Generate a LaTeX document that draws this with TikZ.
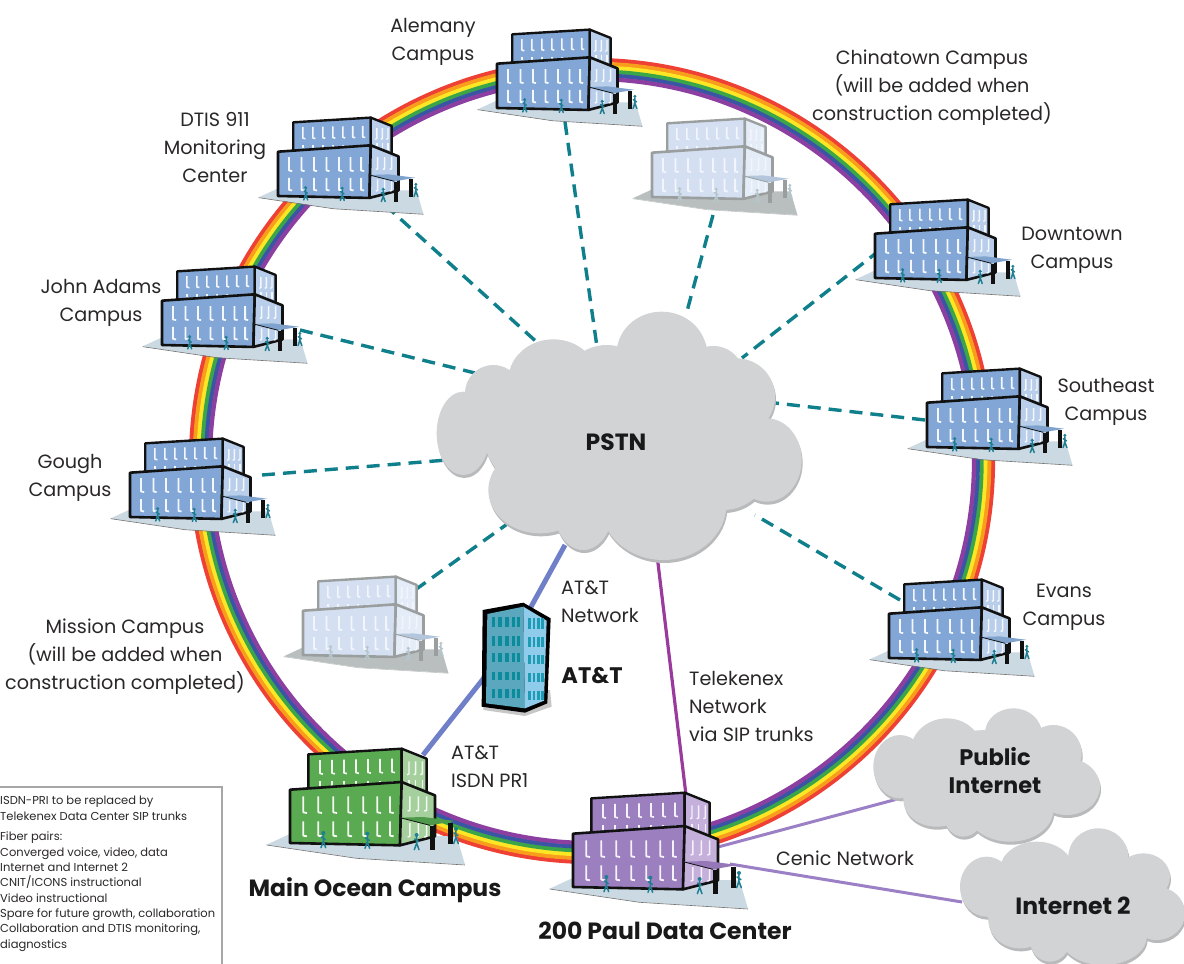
\documentclass[tikz,border=0pt]{standalone}
\usepackage{fontspec}
\setmainfont{Poppins}
\definecolor{blueF}{HTML}{82A6D6}\definecolor{blueS}{HTML}{B8CEEA}\definecolor{blueL}{HTML}{111111}\definecolor{blueP}{HTML}{CBD9E3}\definecolor{blueW}{HTML}{F4F8FD}\definecolor{blueM}{HTML}{1E7F93}\definecolor{blueC}{HTML}{7FA3CC}
\definecolor{greenF}{HTML}{5AAA52}\definecolor{greenS}{HTML}{A5D09E}\definecolor{greenL}{HTML}{111111}\definecolor{greenP}{HTML}{CBD9E3}\definecolor{greenW}{HTML}{F4FAF2}\definecolor{greenM}{HTML}{1E7F93}\definecolor{greenC}{HTML}{4F9A4A}
\definecolor{purpF}{HTML}{9C7FBF}\definecolor{purpS}{HTML}{C4B0DA}\definecolor{purpL}{HTML}{111111}\definecolor{purpP}{HTML}{CBD9E3}\definecolor{purpW}{HTML}{F6F2FB}\definecolor{purpM}{HTML}{1E7F93}\definecolor{purpC}{HTML}{9678B8}
\definecolor{ghostF}{HTML}{D4E0F2}\definecolor{ghostS}{HTML}{E4ECF8}\definecolor{ghostL}{HTML}{9A9E9E}\definecolor{ghostP}{HTML}{B9BFBF}\definecolor{ghostW}{HTML}{F2F6FC}\definecolor{ghostM}{HTML}{B5C6CC}\definecolor{ghostC}{HTML}{B4C6DC}
\definecolor{ctext}{HTML}{2A2728}\definecolor{cloudM}{HTML}{D1D3D5}\definecolor{cloudD}{HTML}{B9BABC}
\definecolor{tealdash}{HTML}{0F7F8C}\definecolor{attblue}{HTML}{6F80C8}\definecolor{magline}{HTML}{9A3A9C}\definecolor{purpline}{HTML}{9B80C6}
\definecolor{towerF}{HTML}{5AA7BE}\definecolor{towerS}{HTML}{8FCBEA}\definecolor{towerW}{HTML}{0A8C9C}\definecolor{towerV}{HTML}{1E9BB5}
\tikzset{
 x=1pt,y=-1pt,
 lbl/.style={inner sep=0pt,align=center,text=ctext,yshift=-3pt,font=\fontsize{19.2}{28}\selectfont},
 lbll/.style={lbl,align=left},
 blbl/.style={inner sep=0pt,align=center,text=black!90,yshift=-1pt,font=\fontsize{23.5}{28}\selectfont\bfseries},
 legendtxt/.style={inner sep=0pt,align=left,text=ctext,font=\fontsize{11.5}{15.3}\selectfont},
 dashlink/.style={draw=tealdash,line width=3.4pt,dash pattern=on 13pt off 8pt},
 attlink/.style={draw=attblue,line width=5pt},
 maglink/.style={draw=magline,line width=3.2pt},
 purplink/.style={draw=purpline,line width=3pt}
}
\newcommand{\bldg}[4]{%
\begin{scope}[shift={(#1,#2)},scale=#3,line join=round]
 \fill[#4P] (-70,5)--(-5,-25)--(500,-20)--(525,65)--(200,45)--cycle;
 \draw[#4L!60!white,line width=.6pt] (-70,6)--(200,46)--(525,66);
 % upper block
 \filldraw[fill=#4F,draw=#4L,line width=2.4pt] (55,-266)--(335,-283)--(335,-150)--(55,-150)--cycle;
 \filldraw[fill=#4S,draw=#4L,line width=2.4pt] (335,-283)--(410,-253)--(410,-130)--(335,-150)--cycle;
 \foreach \u in {90,126,162,198,234,270,306}{
  \draw[#4W,line width=1.6pt] (\u,-247-\u*.02)--(\u,-207-\u*.02)--(\u+9,-205-\u*.02);
  \draw[#4W,line width=1.5pt] (\u,-185)--(\u,-172);}
 \foreach \u in {352,372,392}{
  \draw[#4W,line width=1.4pt] (\u+5,-245)--(\u+5,-207)--(\u-1,-205);
  \draw[#4W,line width=1.4pt] (\u+5,-190)--(\u+5,-165);}
 % lower block
 \filldraw[fill=#4F,draw=#4L,line width=2.6pt] (0,-160)--(335,-183)--(330,7)--(0,0)--cycle;
 \filldraw[fill=#4S,draw=#4L,line width=2.6pt] (335,-183)--(435,-143)--(435,-20)--(330,7)--cycle;
 \foreach \u in {40,85,130,175,220,262,300}{
  \draw[#4W,line width=1.8pt] (\u,-140)--(\u,-92)--(\u+11,-90);
  \draw[#4W,line width=1.8pt] (\u,-65)--(\u,-22)--(\u+11,-20);}
 \foreach \u in {355,380,405}{
  \draw[#4W,line width=1.5pt] (\u+5,-140)--(\u+5,-98)--(\u-2,-96);
  \draw[#4W,line width=1.5pt] (\u+5,-60)--(\u+5,-20)--(\u-2,-18);}
 % canopy and columns
 \fill[#4C] (330,-76)--(400,-78)--(495,-66)--(420,-53)--cycle;
 \draw[#4L,line width=.8pt] (330,-76)--(420,-53);
 \draw[#4L,line width=5pt*#3*3] (427,-50)--(427,22);
 \draw[#4L,line width=5pt*#3*3] (481,-60)--(481,2);
 % people
 \foreach \u/\v in {100/0,232/2,380/6,498/-12}{
  \fill[#4M] (\u,\v-30) circle (6);
  \draw[#4M,line width=1.5pt,line cap=round] (\u,\v-24)--(\u,\v-5)--(\u-7,\v+14) (\u,\v-5)--(\u+7,\v+14) (\u-6,\v-18)--(\u+6,\v-10);}
\end{scope}}
\newcommand{\lobesPSTN}{%
 \fill (100,430) ellipse [x radius=80,y radius=125];
 \fill (190,310) circle (85);
 \fill (370,270) ellipse [x radius=135,y radius=122];
 \fill (530,300) circle (135);
 \fill (695,190) ellipse [x radius=135,y radius=125];
 \fill (850,260) circle (92);
 \fill (920,320) ellipse [x radius=115,y radius=115];
 \fill (1010,510) ellipse [x radius=105,y radius=125];
 \fill (880,520) ellipse [x radius=140,y radius=140];
 \fill (700,640) ellipse [x radius=190,y radius=170];
 \fill (460,650) ellipse [x radius=90,y radius=130];
 \fill (330,600) ellipse [x radius=155,y radius=130];
 \fill (560,430) ellipse [x radius=400,y radius=250];}
\newcommand{\lobesPub}{%
 \fill (150,170) ellipse [x radius=80,y radius=95];
 \fill (290,130) ellipse [x radius=110,y radius=105];
 \fill (490,70) ellipse [x radius=85,y radius=75];
 \fill (610,130) circle (85);
 \fill (650,230) ellipse [x radius=100,y radius=85];
 \fill (480,300) ellipse [x radius=130,y radius=95];
 \fill (340,310) ellipse [x radius=60,y radius=70];
 \fill (260,270) ellipse [x radius=100,y radius=80];
 \fill (420,190) ellipse [x radius=270,y radius=130];}
\newcommand{\lobesTwo}{%
 \fill (410,530) ellipse [x radius=80,y radius=90];
 \fill (560,480) ellipse [x radius=110,y radius=85];
 \fill (745,440) ellipse [x radius=90,y radius=85];
 \fill (880,500) ellipse [x radius=80,y radius=70];
 \fill (920,610) ellipse [x radius=85,y radius=80];
 \fill (760,680) ellipse [x radius=130,y radius=85];
 \fill (600,690) ellipse [x radius=60,y radius=65];
 \fill (510,630) ellipse [x radius=95,y radius=85];
 \fill (670,570) ellipse [x radius=280,y radius=130];}
\newcommand{\cloudat}[3]{%
 \begin{scope}[shift={(#1+1,#2+3)},scale=1/3,cloudD]#3\end{scope}
 \begin{scope}[shift={(#1,#2)},scale=1/3,cloudM]#3\end{scope}}
\begin{document}
\begin{tikzpicture}
\useasboundingbox (0,0) rectangle (1184,964);
\fill[white] (0,0) rectangle (1184,964);
% named connector ends
\coordinate (bAlemany) at (565,122); \coordinate (pAlemany) at (597,347);
\coordinate (bChina) at (713,215);   \coordinate (pChina) at (686,315);
\coordinate (bDown) at (880,250);    \coordinate (pDown) at (742,358);
\coordinate (bDtis) at (385,205);    \coordinate (pDtis) at (540,345);
\coordinate (bJohn) at (300,330);    \coordinate (pJohn) at (475,373);
\coordinate (bGough) at (262,475);   \coordinate (pGough) at (447,460);
\coordinate (bSouth) at (925,420);   \coordinate (pSouth) at (775,403);
\coordinate (bEvans) at (900,600);   \coordinate (pEvans) at (755,515);
\coordinate (bMission) at (415,590); \coordinate (pMission) at (510,522);
\coordinate (pAtt) at (565,545);     \coordinate (att) at (510,645);
\coordinate (main) at (423,755);
\coordinate (pTele) at (657,555);    \coordinate (paulTop) at (686,795);
\coordinate (paulA) at (718,847);    \coordinate (pub) at (905,797);
\coordinate (paulB) at (730,864);    \coordinate (inet) at (962,902);
% rainbow ring
\coordinate (ringc) at (592,461);
\foreach \r/\c in {401/EE4035,397.2/F99D1C,393.4/FDE725,389.6/3AA648,385.8/3B55A5,382/8C3FA0}{
 \definecolor{rb}{HTML}{\c}
 \draw[rb,line width=4.2pt] (ringc) circle (\r);}
% connectors
\draw[dashlink] (bAlemany)--(pAlemany);
\draw[dashlink] (bChina)--(pChina);
\draw[dashlink] (bDown)--(pDown);
\draw[dashlink] (bDtis)--(pDtis);
\draw[dashlink] (bJohn)--(pJohn);
\draw[dashlink] (bGough)--(pGough);
\draw[dashlink] (bSouth)--(pSouth);
\draw[dashlink] (bEvans)--(pEvans);
\draw[dashlink] (bMission)--(pMission);
\draw[attlink] (pAtt)--(att);
\draw[attlink] (att)--(main);
\draw[maglink] (pTele)--(paulTop);
\draw[purplink] (paulA)--(pub);
\draw[purplink] (paulB)--(inet);
% clouds
\cloudat{430}{290}{\lobesPSTN}
\cloudat{850}{710}{\lobesPub}
\cloudat{850}{710}{\lobesTwo}
% buildings
\bldg{497}{108}{0.277}{blue}
\bldg{278}{196}{0.277}{blue}
\bldg{162}{345}{0.277}{blue}
\bldg{130}{517}{0.277}{blue}
\bldg{875}{278}{0.277}{blue}
\bldg{927}{447}{0.277}{blue}
\bldg{889}{658}{0.277}{blue}
\bldg{652}{197}{0.277}{ghost}
\bldg{303}{655}{0.277}{ghost}
\bldg{290}{843}{0.3333}{green}
\bldg{573}{887}{0.3333}{purp}
% AT&T tower
\begin{scope}[shift={(400,590)},scale=1/3,line join=round]
 \fill[black!22] (250,360)--(375,378)--(455,350)--(450,300)--(250,300)--cycle;
 \fill[black] (248,60)--(370,38)--(452,85)--(442,340)--(375,368)--(245,350)--cycle;
 \fill[towerF] (262,72)--(370,50)--(375,355)--(258,340)--cycle;
 \fill[towerS] (370,50)--(440,92)--(432,332)--(375,355)--cycle;
 \foreach \y/\h in {80/32,137/30,190/26,245/26,297/28}{
  \foreach \xx in {275,295,315,335,350}{\fill[towerW] (\xx,\y) rectangle (\xx+11,\y+\h);}
  \foreach \xx in {385,398,411,424}{\fill[towerV] (\xx,\y+5) rectangle (\xx+8,\y+5+\h);}}
\end{scope}
% labels
\node[lbl] (tAlemany) at (433,39) {Alemany\\Campus};
\node[lbl] (tChina) at (932,85) {Chinatown Campus\\(will be added when\\construction completed)};
\node[lbl] (tDtis) at (215,145) {DTIS 911\\Monitoring\\Center};
\node[lbl] (tJohn) at (101,300) {John Adams\\Campus};
\node[lbl] (tGough) at (70,475) {Gough\\Campus};
\node[lbl] (tMission) at (125,654) {Mission Campus\\(will be added when\\construction completed)};
\node[lbl] (tDown) at (1072,247) {Downtown\\Campus};
\node[lbl] (tSouth) at (1106,399) {Southeast\\Campus};
\node[lbl] (tEvans) at (1064,604) {Evans\\Campus};
\node[lbll,anchor=west] (tAttNet) at (561,599) {AT\&T\\Network};
\node[blbl,font=\fontsize{22.5}{28}\selectfont\bfseries] (tAtt) at (592,675) {AT\&T};
\node[lbll,anchor=west] (tTele) at (689,703) {Telekenex\\Network\\via SIP trunks};
\node[lbll,anchor=west] (tIsdn) at (451,764) {AT\&T\\ISDN PR1};
\node[lbl] (tCenic) at (845,855) {Cenic Network};
\node[blbl,font=\fontsize{22.5}{28}\selectfont\bfseries] (tPub) at (995,770) {Public\\Internet};
\node[blbl] (tI2) at (1073,905) {Internet 2};
\node[blbl] (tMain) at (375,889) {Main Ocean Campus};
\node[blbl] (tPaul) at (665,930) {200 Paul Data Center};
\node[blbl] (tPstn) at (616,441) {PSTN};
% legend
\draw[black!35,line width=1.3pt] (0,787)--(222,787)--(222,964);
\node[legendtxt,anchor=north west] (tLegA) at (0,796) {ISDN-PRI to be replaced by\\Telekenex Data Center SIP trunks};
\node[legendtxt,anchor=north west] (tLegB) at (0,832) {Fiber pairs:\\Converged voice, video, data\\Internet and Internet 2\\CNIT/ICONS instructional\\Video instructional\\Spare for future growth, collaboration\\Collaboration and DTIS monitoring,\\diagnostics};
\end{tikzpicture}
\end{document}
